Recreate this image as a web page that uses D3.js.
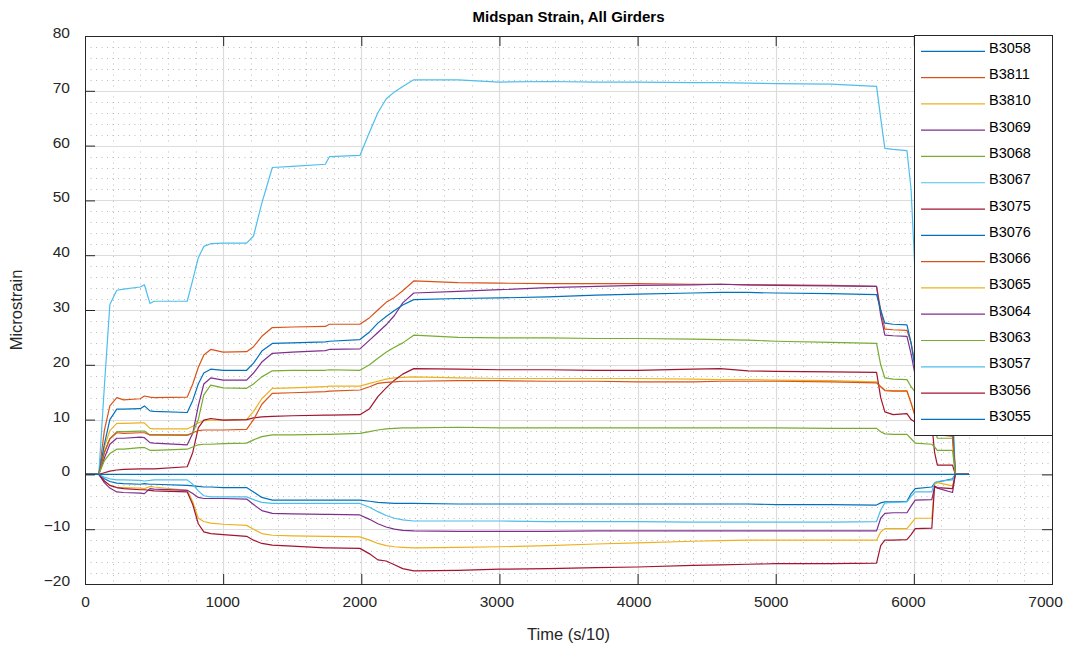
<!DOCTYPE html>
<html>
<head>
<meta charset="utf-8">
<script src="https://cdn.jsdelivr.net/npm/d3@7"></script>
<style>
  body { margin: 0; background: #ffffff; }
  text { font-family: "Liberation Sans", Arial, Helvetica, sans-serif; fill: #262626; }
</style>
</head>
<body>
<svg id="chart" width="1067" height="650"></svg>
<script>
// Sample times (s/10) shared by every gauge record
const time = [0,100,140,180,230,280,400,430,470,500,
  740,780,820,860,910,1000,1170,1220,1280,1356,
  1500,1740,1770,1990,2060,2120,2180,2240,2300,2380,
  2700,3000,3350,3700,4000,4400,4600,4800,5000,5400,
  5730,5760,5790,5850,5950,5980,6010,6130,6150,6170,
  6280,6300,6400];

// Midspan strain (microstrain) per girder gauge
const B3058 = [0,0,-0.8,-1.3,-1.6,-1.7,-1.8,-1.7,-1.8,-1.8,
  -2.0,-2.1,-2.2,-2.3,-2.3,-2.4,-2.4,-3.2,-4.2,-4.7,
  -4.7,-4.7,-4.7,-4.7,-4.9,-5.1,-5.2,-5.3,-5.3,-5.3,
  -5.4,-5.4,-5.4,-5.4,-5.4,-5.4,-5.4,-5.4,-5.5,-5.5,
  -5.6,-5.2,-5.0,-5.0,-4.9,-3.5,-2.6,-2.3,-1.6,-1.4,
  -0.8,0,0];
const B3811 = [0,0,8,12.5,14.0,13.6,13.8,14.3,14.1,14.0,
  14.1,16.5,19.5,21.8,22.8,22.3,22.4,23.3,25.2,26.8,
  26.9,27.0,27.4,27.4,28.6,30.0,31.4,32.3,33.5,35.3,
  35.0,34.9,34.8,34.8,34.8,34.7,34.7,34.6,34.6,34.5,
  34.3,30.0,26.5,26.4,26.3,24.0,20.0,19.5,14.0,10.0,
  9.5,0,0];
const B3810 = [0,0,5,8,9.3,9.3,9.4,9.4,8.4,8.3,
  8.3,8.8,9.4,9.8,9.9,9.9,10.0,11.5,13.8,15.7,
  15.8,16.0,16.1,16.1,16.6,17.0,17.4,17.6,17.7,17.8,
  17.6,17.5,17.5,17.5,17.5,17.4,17.3,17.3,17.2,17.1,
  16.9,16.0,15.4,15.3,15.3,13.0,10.8,10.5,8.0,7.5,
  7.0,0,0];
const B3069 = [0,0,3,5.5,6.6,6.6,6.8,6.7,5.8,5.7,
  5.4,7.5,12.5,16.5,17.6,17.2,17.2,18.5,20.5,22.1,
  22.3,22.6,22.8,22.9,24.5,25.9,27.3,29.0,31.3,33.1,
  33.4,33.7,34.1,34.3,34.5,34.6,34.7,34.6,34.5,34.4,
  34.3,29.0,25.4,25.3,25.2,22.0,18.0,17.5,12.0,9.0,
  8.5,0,0];
const B3068 = [0,0,4,6.5,7.8,7.8,7.9,7.9,7.2,7.2,
  7.1,7.5,10.0,14.5,16.3,15.8,15.7,16.5,17.8,18.9,
  19.0,19.0,19.1,19.0,20.0,21.2,22.3,23.2,24.0,25.4,
  25.0,24.9,24.9,24.8,24.8,24.7,24.6,24.5,24.3,24.1,
  23.9,20.0,17.6,17.4,17.3,16.0,15.0,14.5,8.5,6.6,
  6.6,0,0];
const B3067 = [0,0,16,31,33.6,33.8,34.2,34.6,31.2,31.6,
  31.6,35.5,39.5,41.6,42.1,42.2,42.2,43.5,49.5,56.0,
  56.2,56.6,58.0,58.2,62.5,66.0,68.5,69.8,70.8,72.0,
  72.0,71.6,71.7,71.6,71.6,71.5,71.5,71.4,71.3,71.2,
  70.8,65.0,59.5,59.3,59.1,52.0,36.0,35.0,22.0,15.0,
  14.0,0,0];
const B3075 = [0,0,0.3,0.6,0.8,0.9,1.0,1.0,1.0,1.0,
  1.4,4.0,8.5,9.9,10.2,9.9,10.0,10.3,10.5,10.6,
  10.7,10.8,10.8,10.9,12.0,14.2,15.8,17.2,18.3,19.3,
  19.2,19.1,19.1,19.0,19.0,19.2,19.3,18.9,18.8,18.7,
  18.6,14.0,11.4,10.9,11.1,10.0,9.5,9.3,4.0,1.7,
  1.7,0,0];
const B3076 = [0,0,5.5,10,11.9,11.9,12.0,12.5,11.6,11.5,
  11.3,13.5,16.5,18.5,19.2,19.0,19.0,20.3,22.5,23.9,
  24.0,24.2,24.3,24.6,26.0,27.6,28.8,29.9,30.9,31.9,
  32.1,32.2,32.4,32.7,32.9,33.1,33.2,33.2,33.1,33.0,
  32.8,30.0,27.6,27.4,27.3,24.0,19.0,18.5,12.5,9.5,
  9.0,0,0];
const B3066 = [0,0,4,6.5,7.6,7.5,7.6,7.6,7.2,7.2,
  7.2,7.6,8.0,8.1,8.1,8.1,8.2,10.0,12.8,14.8,
  14.9,15.1,15.2,15.4,16.0,16.6,16.8,16.9,17.0,17.0,
  17.1,17.1,17.0,17.0,16.9,16.9,17.0,17.0,17.0,16.9,
  16.7,16.0,15.3,15.2,15.2,13.0,10.5,10.3,7.5,7.2,
  7.0,0,0];
const B3065 = [0,0,-1.2,-2.0,-2.4,-2.4,-2.5,-2.6,-2.2,-2.3,
  -2.9,-5.0,-8.0,-8.6,-8.9,-9.1,-9.3,-10.0,-10.8,-11.1,
  -11.2,-11.3,-11.3,-11.4,-12.0,-12.6,-13.0,-13.2,-13.3,-13.4,
  -13.3,-13.2,-13.0,-12.7,-12.5,-12.2,-12.1,-12.0,-12.0,-12.0,
  -12.0,-10.5,-9.9,-9.9,-9.9,-9.0,-8.0,-8.0,-1.8,-1.5,
  -2.1,0,0];
const B3064 = [0,0,-1.5,-2.5,-3.2,-3.3,-3.4,-3.5,-2.6,-2.7,
  -2.9,-3.5,-4.2,-4.4,-4.4,-4.4,-4.5,-5.5,-6.6,-7.1,
  -7.2,-7.3,-7.3,-7.4,-8.2,-9.0,-9.6,-10.0,-10.2,-10.3,
  -10.4,-10.4,-10.4,-10.3,-10.3,-10.3,-10.3,-10.3,-10.3,-10.3,
  -10.3,-8.0,-7.1,-7.0,-7.0,-5.8,-4.7,-4.6,-2.3,-2.5,
  -3.3,0,0];
const B3063 = [0,0,2.5,3.8,4.6,4.6,4.9,4.9,4.4,4.4,
  4.6,5.0,5.4,5.5,5.5,5.6,5.7,6.3,6.9,7.2,
  7.2,7.3,7.3,7.5,7.8,8.1,8.3,8.4,8.5,8.5,
  8.6,8.5,8.5,8.5,8.5,8.5,8.5,8.5,8.5,8.4,
  8.4,7.8,7.4,7.3,7.3,6.5,5.7,5.5,5.0,4.4,
  4.4,0,0];
const B3057 = [0,0,-0.5,-0.8,-1.0,-1.0,-1.1,-1.2,-1.1,-1.0,
  -1.0,-1.8,-3.0,-3.9,-4.1,-4.1,-4.1,-4.6,-5.1,-5.3,
  -5.3,-5.3,-5.3,-5.3,-6.0,-6.8,-7.5,-8.0,-8.3,-8.5,
  -8.5,-8.5,-8.6,-8.6,-8.6,-8.7,-8.7,-8.7,-8.7,-8.7,
  -8.6,-6.5,-5.2,-5.1,-5.0,-4.0,-3.2,-3.2,-1.5,-1.3,
  -1.0,0,0];
const B3056 = [0,0,-1.2,-2.0,-2.4,-2.6,-2.8,-2.8,-2.9,-3.0,
  -3.2,-5.5,-9.0,-10.5,-10.8,-11.0,-11.3,-12.0,-12.6,-12.9,
  -13.1,-13.4,-13.4,-13.5,-14.5,-15.6,-15.8,-16.5,-17.2,-17.6,
  -17.5,-17.3,-17.2,-17.0,-16.9,-16.6,-16.5,-16.4,-16.3,-16.3,
  -16.2,-13.0,-12.0,-12.0,-11.9,-11.0,-9.9,-9.8,-2.1,-2.4,
  -2.6,0,0];
const B3055 = [0,0,0,0,0,0,0,0,0,0,
  0,0,0,0,0,0,0,0,0,0,
  0,0,0,0,0,0,0,0,0,0,
  0,0,0,0,0,0,0,0,0,0,
  0,0,0,0,0,0,0,0,0,0,
  0,0,0];

const seriesNames = ["B3058","B3811","B3810","B3069","B3068","B3067","B3075",
  "B3076","B3066","B3065","B3064","B3063","B3057","B3056","B3055"];
const seriesValues = [B3058,B3811,B3810,B3069,B3068,B3067,B3075,
  B3076,B3066,B3065,B3064,B3063,B3057,B3056,B3055];

// Default line colour cycle
const palette = ["#0072BD","#D95319","#EDB120","#7E2F8E","#77AC30","#4DBEEE","#A2142F"];

const xTicks = [0,1000,2000,3000,4000,5000,6000,7000];
const yTicks = [-20,-10,0,10,20,30,40,50,60,70,80];

const svg = d3.select("#chart");
const X0 = 85, X1 = 1052, Y0 = 36, Y1 = 584;
const x = d3.scaleLinear().domain([0, 7000]).range([X0, X1]);
const y = d3.scaleLinear().domain([-20, 80]).range([Y1, Y0]);
const px = v => Math.round(v) + 0.5;

// Minor grid (dotted)
const minorG = svg.append("g");
const xMinor = d3.range(0, 7001, 200).filter(v => v % 1000 !== 0);
const yMinor = d3.range(-20, 81, 2).filter(v => v % 10 !== 0);
minorG.selectAll("line.mx").data(xMinor).join("line")
  .attr("x1", d => px(x(d))).attr("x2", d => px(x(d)))
  .attr("y1", Y0).attr("y2", Y1);
minorG.selectAll("line.my").data(yMinor).join("line")
  .attr("y1", d => px(y(d))).attr("y2", d => px(y(d)))
  .attr("x1", X0).attr("x2", X1);
minorG.selectAll("line").attr("stroke", "#bdbdbd").attr("stroke-width", 1)
  .attr("stroke-dasharray", "1,4.5");

// Major grid
const majorG = svg.append("g");
majorG.selectAll("line.gx").data(xTicks.slice(1, -1)).join("line")
  .attr("x1", d => px(x(d))).attr("x2", d => px(x(d)))
  .attr("y1", Y0).attr("y2", Y1);
majorG.selectAll("line.gy").data(yTicks.slice(1, -1)).join("line")
  .attr("y1", d => px(y(d))).attr("y2", d => px(y(d)))
  .attr("x1", X0).attr("x2", X1);
majorG.selectAll("line").attr("stroke", "#dcdcdc").attr("stroke-width", 1.2);

// Strain traces
const line = d3.line()
  .x((d, i) => x(time[i]))
  .y(d => y(d));
svg.append("g").selectAll("path").data(seriesValues).join("path")
  .attr("d", d => line(d))
  .attr("fill", "none")
  .attr("stroke", (d, i) => palette[i % palette.length])
  .attr("stroke-width", 1.2)
  .attr("stroke-linejoin", "round");

// Axes with inward ticks on all four sides
function styleAxis(g) {
  g.select(".domain").remove();
  g.selectAll(".tick line").attr("stroke", "#262626");
  g.selectAll(".tick text").attr("fill", "#262626")
    .style("font-size", "15.5px")
    .style("font-family", "'Liberation Sans', Arial, sans-serif");
}
svg.append("g").attr("transform", `translate(0,${Y1})`)
  .call(d3.axisBottom(x).tickValues(xTicks).tickFormat(d3.format("d"))
    .tickSizeInner(-10).tickSizeOuter(0).tickPadding(12))
  .call(styleAxis)
  .selectAll(".tick text").attr("dx", d => -(x(d) - X0) * 0.0072);
svg.append("g").attr("transform", `translate(0,${Y0})`)
  .call(d3.axisTop(x).tickValues(xTicks).tickFormat("")
    .tickSizeInner(-10).tickSizeOuter(0))
  .call(styleAxis);
svg.append("g").attr("transform", `translate(${X0},0)`)
  .call(d3.axisLeft(y).tickValues(yTicks).tickFormat(d3.format("d"))
    .tickSizeInner(-10).tickSizeOuter(0).tickPadding(15))
  .call(styleAxis)
  .selectAll(".tick text").attr("dy", "0.1em");
svg.append("g").attr("transform", `translate(${X1},0)`)
  .call(d3.axisRight(y).tickValues(yTicks).tickFormat("")
    .tickSizeInner(-10).tickSizeOuter(0))
  .call(styleAxis);

// Plot box
svg.append("rect")
  .attr("x", X0 + 0.5).attr("y", Y0 + 0.5)
  .attr("width", X1 - X0).attr("height", Y1 - Y0)
  .attr("fill", "none").attr("stroke", "#262626").attr("stroke-width", 1);

// Titles
svg.append("text").attr("x", (X0 + X1) / 2).attr("y", 22)
  .attr("text-anchor", "middle").style("font-size", "15px").style("font-weight", "bold")
  .style("fill", "#000").text("Midspan Strain, All Girders");
svg.append("text").attr("x", (X0 + X1) / 2).attr("y", 640)
  .attr("text-anchor", "middle").style("font-size", "16.5px")
  .text("Time (s/10)");
svg.append("text").attr("transform", `translate(22,${(Y0 + Y1) / 2}) rotate(-90)`)
  .attr("text-anchor", "middle").style("font-size", "16.5px")
  .text("Microstrain");

// Legend
const LX = 914, LY = 35, LW = 138, LH = 400, step = 26.29;
const legend = svg.append("g");
legend.append("rect").attr("x", LX + 0.5).attr("y", LY + 0.5)
  .attr("width", LW).attr("height", LH)
  .attr("fill", "#ffffff").attr("stroke", "#262626").attr("stroke-width", 1);
const items = legend.selectAll("g.item").data(seriesNames).join("g")
  .attr("transform", (d, i) => `translate(0,${51.3 + i * step})`);
items.append("line").attr("x1", 921).attr("x2", 985).attr("y1", 0).attr("y2", 0)
  .attr("stroke", (d, i) => palette[i % palette.length]).attr("stroke-width", 1.2);
items.append("text").attr("x", 989).attr("y", 1.5)
  .style("font-size", "14.5px").style("fill", "#000").text(d => d);
</script>
</body>
</html>
